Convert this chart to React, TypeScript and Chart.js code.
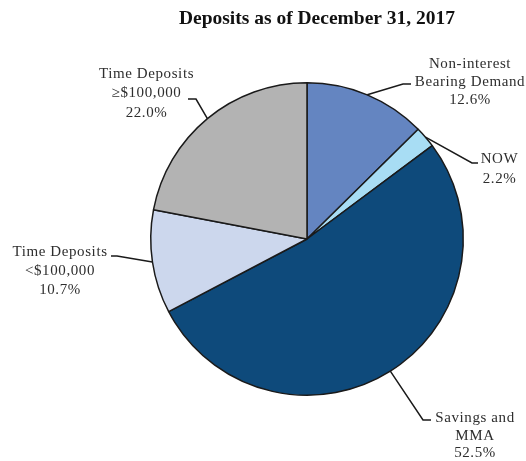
import React, { useEffect, useRef } from "react";
import { Chart, registerables } from "chart.js";

Chart.register(...registerables);

const TITLE = "Deposits as of December 31, 2017";
const categories: string[][] = [
  ["Non-interest", "Bearing Demand"],
  ["NOW"],
  ["Savings and", "MMA"],
  ["Time Deposits", "<$100,000"],
  ["Time Deposits", "\u2265$100,000"],
];
const shares: number[] = [12.6, 2.2, 52.5, 10.7, 22.0];
const sliceColors: string[] = ["#6485C1", "#A8DDF4", "#0E4A7B", "#CCD7ED", "#B3B3B3"];

// label layout: text centre x, first baseline y, line gap, leader polyline (from text side toward arc)
const labelLayout = [
  { cx: 470, y0: 68, gap: 18, leader: [[411, 84], [403, 84]] },
  { cx: 499.5, y0: 163, gap: 20, leader: [[478, 163], [472, 163]] },
  { cx: 475, y0: 422, gap: 17.5, leader: [[431, 420], [423, 420]] },
  { cx: 60, y0: 256, gap: 19, leader: [[111, 256], [117, 256]] },
  { cx: 146.5, y0: 78, gap: 19.3, leader: [[188, 99], [196, 99]] },
];

const labelPlugin = {
  id: "pieLabels",
  afterDraw(chart: any) {
    const ctx = chart.ctx;
    ctx.save();
    ctx.fillStyle = "#111";
    ctx.font = "bold 19.5px 'Liberation Serif', 'Times New Roman', serif";
    ctx.textAlign = "center";
    ctx.textBaseline = "alphabetic";
    ctx.fillText(TITLE, 317, 24);

    const meta = chart.getDatasetMeta(0);
    meta.data.forEach((arc: any, i: number) => {
      const { x, y, outerRadius, startAngle, endAngle } = arc.getProps(
        ["x", "y", "outerRadius", "startAngle", "endAngle"],
        true
      );
      const mid = (startAngle + endAngle) / 2;
      const px = x + Math.cos(mid) * outerRadius;
      const py = y + Math.sin(mid) * outerRadius;
      const lay = labelLayout[i];
      ctx.strokeStyle = "#1a1a1a";
      ctx.lineWidth = 1.5;
      ctx.beginPath();
      ctx.moveTo(lay.leader[0][0], lay.leader[0][1]);
      for (let k = 1; k < lay.leader.length; k++) ctx.lineTo(lay.leader[k][0], lay.leader[k][1]);
      ctx.lineTo(px, py);
      ctx.stroke();

      const lines = [...categories[i], shares[i].toFixed(1) + "%"];
      ctx.fillStyle = "#2e2e2e";
      ctx.font = "15px 'Liberation Serif', 'Times New Roman', serif";
      try {
        ctx.letterSpacing = "0.6px";
      } catch (e) {}
      ctx.textAlign = "center";
      ctx.textBaseline = "alphabetic";
      lines.forEach((t, j) => ctx.fillText(t, lay.cx, lay.y0 + j * lay.gap));
      try {
        ctx.letterSpacing = "0px";
      } catch (e) {}
    });
    ctx.restore();
  },
};

export default function App() {
  const ref = useRef<HTMLCanvasElement>(null);
  useEffect(() => {
    if (!ref.current) return;
    const chart = new Chart(ref.current, {
      type: "pie",
      data: {
        labels: categories.map((c) => c.join(" ")),
        datasets: [
          {
            data: shares,
            backgroundColor: sliceColors,
            borderColor: "#1a1a1a",
            borderWidth: 1.5,
          },
        ],
      },
      options: {
        responsive: false,
        animation: false,
        layout: { padding: { left: 150, right: 62, top: 82, bottom: 65 } },
        plugins: {
          legend: { display: false },
          title: { display: false },
          tooltip: { enabled: false },
        },
      },
      plugins: [labelPlugin],
    });
    return () => chart.destroy();
  }, []);
  return (
    <div style={{ position: "absolute", left: 0, top: 0, width: 526, height: 461, background: "#fff" }}>
      <canvas ref={ref} width={526} height={461} />
    </div>
  );
}
